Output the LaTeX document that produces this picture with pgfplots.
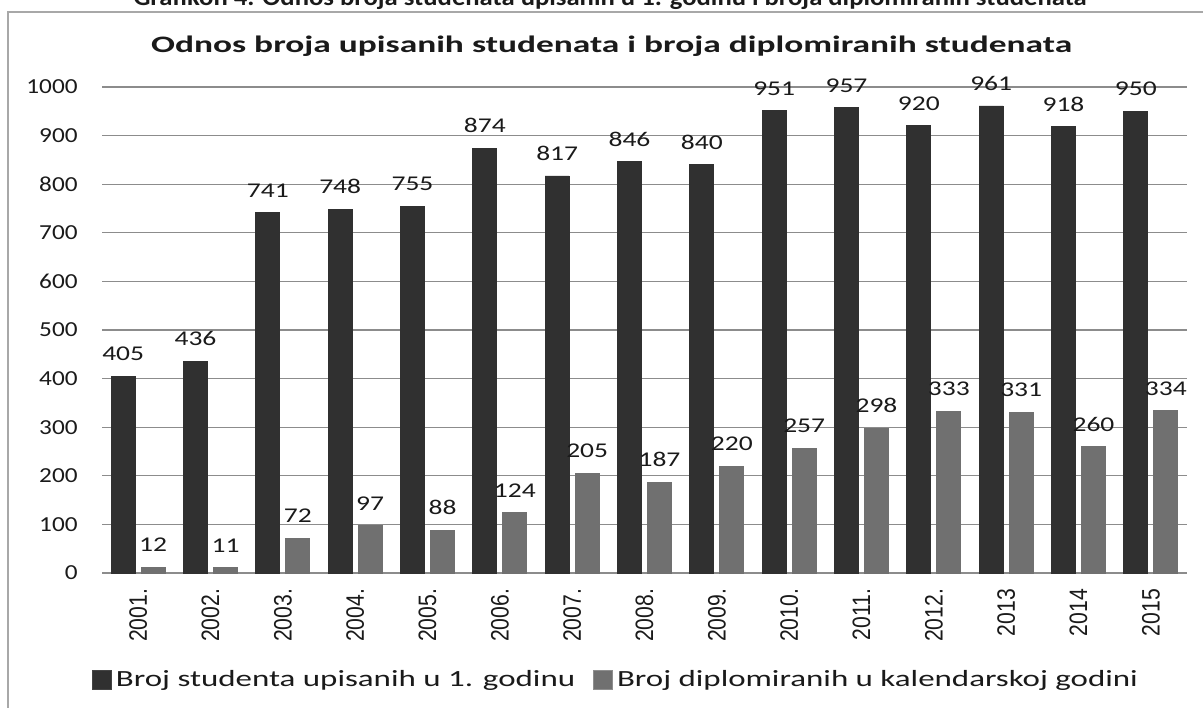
\documentclass[border=0pt]{standalone}
\usepackage{pgfplots}
\pgfplotsset{compat=1.18}
\usepackage{fontspec}
\setmainfont{Carlito}
\newfontfamily\titlefont{Carlito}[FakeStretch=1.5]
\newfontfamily\headfont{Carlito}[FakeStretch=1.11]
\newfontfamily\legfont{Carlito}[FakeStretch=1.42]
\newfontfamily\tickfont{Carlito}[FakeStretch=1.18]
\newfontfamily\lblfont{Carlito}[FakeStretch=1.31]
\newfontfamily\xfont{Liberation Sans}[FakeStretch=0.84]

\definecolor{darkbar}{HTML}{434343}
\definecolor{darkedge}{HTML}{303030}
\definecolor{graybar}{HTML}{8E8E8E}
\definecolor{grayedge}{HTML}{707070}
\definecolor{gridgray}{HTML}{8C8C8C}
\definecolor{framegray}{HTML}{A8A8A8}
\definecolor{txt}{HTML}{1A1A1A}

\begin{document}
\begin{tikzpicture}
% caption above the chart, cut at the top edge
\node[anchor=base, text=txt, font=\headfont\bfseries\fontsize{12}{14}\selectfont] at (305pt,350.5pt)
  {Grafikon 4. Odnos broja studenata upisanih u 1. godinu i broja diplomiranih studenata};
% chart frame
\draw[framegray, line width=1pt] (4.2pt,-5pt) |- (610pt,347.5pt);
% chart title
\node[anchor=base, text=txt, font=\titlefont\bfseries\fontsize{11.8}{13}\selectfont] at (305.75pt,327pt)
  {Odnos broja upisanih studenata i broja diplomiranih studenata};

\begin{axis}[
  at={(51pt,67pt)}, anchor=south west,
  scale only axis, width=542.5pt, height=243pt,
  xmin=-0.5, xmax=14.5, ymin=0, ymax=1000,
  ybar=3pt, bar width=12pt,
  xtick={0,...,14},
  xticklabels={2001.,2002.,2003.,2004.,2005.,2006.,2007.,2008.,2009.,2010.,2011.,2012.,2013,2014,2015},
  ytick={0,100,...,1000},
  /pgf/number format/assume math mode=true,
  /pgf/number format/1000 sep={},
  ymajorgrids, grid style={draw=gridgray, line width=0.6pt},
  axis line style={draw=none},
  major tick length=0pt, tick style={draw=none},
  yticklabel style={font=\tickfont\fontsize{10.7}{12}\selectfont, text=txt, anchor=east, inner sep=0pt, xshift=-12pt},
  xticklabel style={font=\xfont\fontsize{12.6}{14}\selectfont, text=txt, rotate=90, anchor=east, inner sep=0pt, outer xsep=8pt},
  nodes near coords,
  every node near coord/.append style={font=\lblfont\fontsize{10.5}{12}\selectfont, text=txt, inner sep=0pt, yshift=7.5pt},
  clip=false,
  legend columns=2,
  legend style={at={(0.4747,-0.2202)}, anchor=center, draw=none, fill=none, inner sep=0pt,
    font=\legfont\fontsize{11.6}{13}\selectfont, text=txt,
    /tikz/every even column/.append style={column sep=7pt}},
]
\addplot[draw=darkedge, line width=0.4pt, left color=darkedge, middle color=darkbar, right color=darkedge,
  legend image code/.code={\fill[darkbar] (0pt,-4.75pt) rectangle (9.5pt,4.75pt);}]
  coordinates {
  (0,405) (1,436) (2,741) (3,748) (4,755) (5,874) (6,817) (7,846)
  (8,840) (9,951) (10,957) (11,920) (12,961) (13,918) (14,950)
};
\addplot[draw=grayedge, line width=0.4pt, left color=grayedge, middle color=graybar, right color=grayedge,
  legend image code/.code={\fill[graybar] (0pt,-4.75pt) rectangle (9.5pt,4.75pt);}]
  coordinates {
  (0,12) (1,11) (2,72) (3,97) (4,88) (5,124) (6,205) (7,187)
  (8,220) (9,257) (10,298) (11,333) (12,331) (13,260) (14,334)
};
\legend{Broj studenta upisanih u 1. godinu, Broj diplomiranih u kalendarskoj godini}
\end{axis}

\pgfresetboundingbox
\path[use as bounding box] (0,0) rectangle (601.5pt,353.5pt);
\end{tikzpicture}
\end{document}
